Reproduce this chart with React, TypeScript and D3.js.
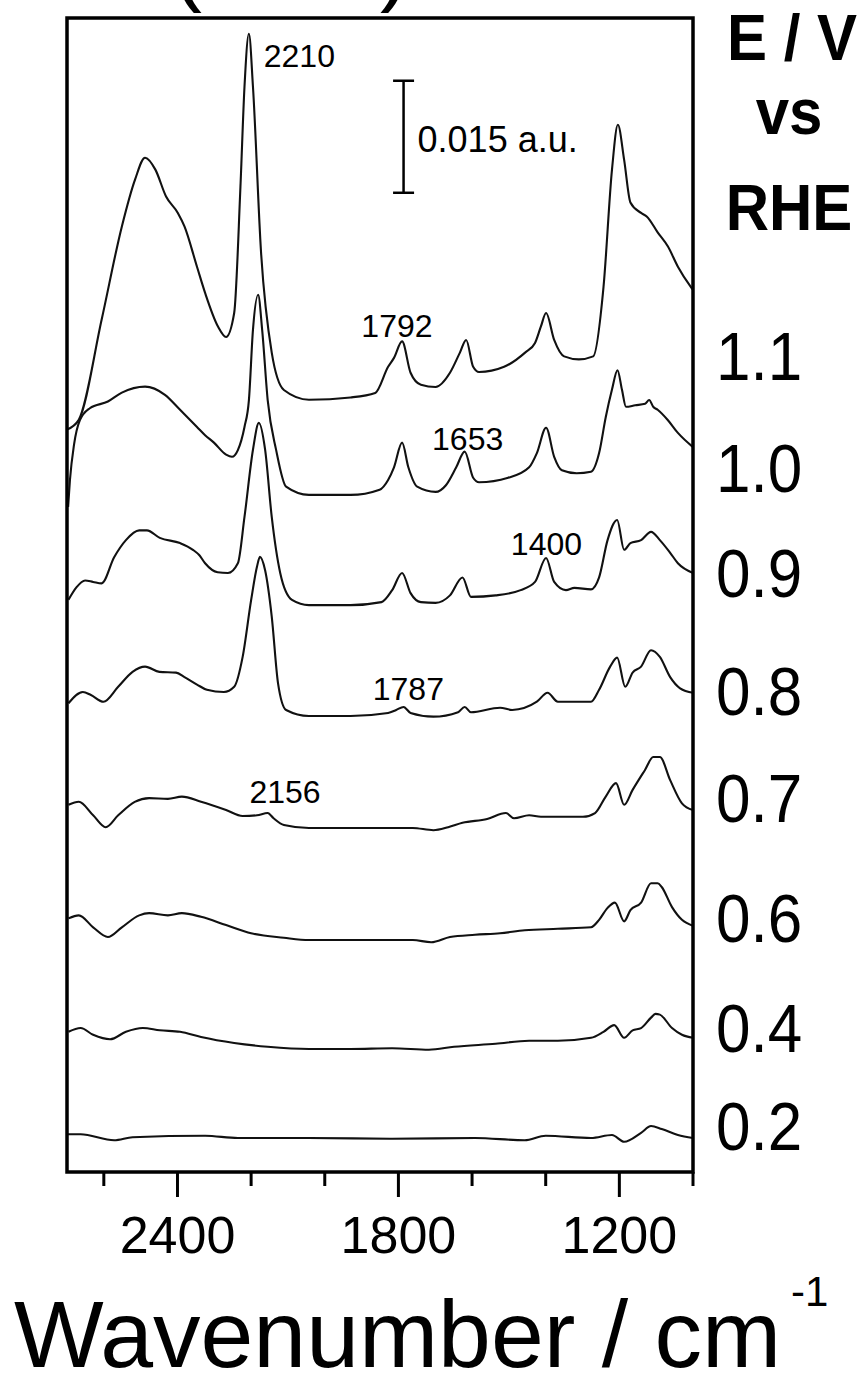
import React from 'react';
import * as d3 from 'd3';

const WIDTH = 861;
const HEIGHT = 1380;

// Electrode potentials (V vs RHE), top trace first
const potentials = ['1.1', '1.0', '0.9', '0.8', '0.7', '0.6', '0.4', '0.2'];

// Vertical offset of every spectrum in the stack (10^-3 a.u.)
const offsets = [103.4, 90.65, 75.9, 61.06, 46.06, 31.06, 16.47, 4.55];

// Spectra: [wavenumber / cm-1, absorbance relative to trace baseline / 10^-3 a.u.]
const spec11: [number, number][] = [
  [2700, -4.0], [2668, -2.7], [2606, 10.7], [2551, 23.2], [2515, 29.5], [2488, 32.4], [2460, 30.8],
  [2431, 27.2], [2399, 25.0], [2381, 23.2], [2347, 17.8], [2325, 14.3], [2290, 9.8], [2268, 8.4],
  [2246, 11.6], [2229, 28.5], [2218, 41.9], [2206, 49.0], [2195, 41.9], [2173, 19.7], [2144, 6.3],
  [2111, 1.3], [2043, 0], [1930, 0.3], [1863, 0.9], [1828, 4.4], [1812, 5.6], [1790, 7.8],
  [1767, 3.6], [1739, 2.0], [1699, 1.7], [1660, 3.6], [1633, 6.3], [1616, 8.0], [1597, 4.4],
  [1581, 3.7], [1513, 4.4], [1456, 6.3], [1429, 7.6], [1413, 9.8], [1399, 11.6], [1377, 8.0],
  [1350, 5.8], [1310, 5.4], [1271, 5.8], [1243, 15.1], [1220, 30.8], [1204, 36.8], [1187, 32.1],
  [1170, 26.4], [1141, 25.0], [1125, 24.5], [1096, 22.4], [1068, 20.5], [1041, 17.8], [1006, 15.1],
  [1000, 14.7],
];

const spec10: [number, number][] = [
  [2697, -1.6], [2692, 2.0], [2681, 6.7], [2665, 10.0], [2638, 11.6], [2589, 12.5], [2551, 13.7],
  [2488, 14.5], [2434, 13.4], [2393, 11.4], [2347, 9.1], [2325, 8.0], [2301, 7.0], [2268, 5.4],
  [2252, 5.1], [2236, 6.0], [2218, 9.1], [2206, 12.7], [2195, 22.1], [2181, 26.8], [2170, 22.1],
  [2155, 12.7], [2132, 6.0], [2105, 1.1], [2043, 0], [1930, 0], [1851, 0.7], [1828, 2.0],
  [1812, 3.7], [1790, 7.0], [1773, 3.7], [1749, 1.1], [1699, 0.4], [1671, 1.3], [1643, 3.7],
  [1620, 5.8], [1597, 2.3], [1581, 1.7], [1502, 2.3], [1445, 3.7], [1424, 5.6], [1399, 9.0],
  [1377, 5.1], [1356, 3.3], [1316, 2.9], [1277, 3.1], [1255, 5.6], [1237, 10.4], [1220, 14.1],
  [1205, 16.7], [1193, 14.1], [1182, 11.8], [1157, 12.0], [1130, 12.2], [1119, 12.7], [1108, 11.8],
  [1096, 11.4], [1068, 10.0], [1041, 8.3], [1000, 6.4],
];

const spec09: [number, number][] = [
  [2696, 0.7], [2674, 2.4], [2651, 3.3], [2629, 3.1], [2606, 2.9], [2572, 6.4], [2540, 8.7],
  [2504, 10.0], [2483, 10.0], [2448, 9.0], [2393, 8.3], [2358, 7.4], [2341, 6.7], [2325, 5.6],
  [2291, 4.4], [2263, 4.3], [2236, 5.6], [2218, 11.8], [2195, 20.8], [2179, 24.4], [2162, 20.8],
  [2144, 11.8], [2121, 4.3], [2089, 0.7], [2043, 0], [1930, 0], [1846, 0.4], [1817, 2.0],
  [1790, 4.3], [1767, 1.6], [1739, 0.4], [1699, 0.3], [1660, 1.3], [1626, 3.7], [1603, 1.1],
  [1536, 1.3], [1468, 2.0], [1429, 3.1], [1399, 6.3], [1377, 3.1], [1345, 2.0], [1322, 2.3],
  [1277, 2.1], [1255, 3.7], [1232, 8.7], [1206, 11.4], [1187, 7.4], [1170, 8.3], [1141, 8.7],
  [1114, 9.8], [1090, 8.7], [1062, 7.0], [1041, 5.6], [1000, 4.3],
];

const spec08: [number, number][] = [
  [2696, 1.7], [2657, 3.2], [2635, 2.8], [2601, 1.9], [2561, 3.9], [2522, 5.9], [2488, 6.6],
  [2449, 5.9], [2404, 5.8], [2381, 5.2], [2347, 4.2], [2320, 3.5], [2274, 3.2], [2246, 3.9],
  [2223, 7.9], [2200, 15.5], [2184, 20.0], [2176, 21.3], [2162, 19.5], [2144, 13.3], [2127, 4.4],
  [2105, 0.8], [2043, 0], [1930, 0], [1828, 0.4], [1806, 0.8], [1786, 1.2], [1767, 0.4],
  [1705, -0.1], [1638, 0.5], [1620, 1.2], [1603, 0.5], [1524, 1.1], [1491, 0.8], [1424, 1.9],
  [1395, 3.1], [1367, 1.9], [1322, 1.9], [1277, 1.9], [1255, 3.5], [1225, 6.6], [1206, 7.8],
  [1184, 3.9], [1164, 5.8], [1141, 6.6], [1114, 8.8], [1090, 7.9], [1062, 5.2], [1035, 3.7],
  [1000, 3.1],
];

const spec07: [number, number][] = [
  [2696, 3.1], [2668, 3.5], [2629, 1.7], [2595, 0.1], [2561, 1.7], [2516, 3.5], [2477, 4.0],
  [2426, 3.9], [2388, 4.2], [2336, 3.5], [2268, 2.4], [2223, 1.6], [2184, 1.7], [2155, 2.0],
  [2139, 1.3], [2111, 0.4], [2043, 0], [1930, 0], [1761, 0], [1705, -0.3], [1665, 0.1],
  [1626, 0.7], [1559, 1.2], [1508, 2.0], [1486, 1.3], [1445, 1.7], [1413, 1.5], [1366, 1.5],
  [1299, 1.5], [1266, 2.0], [1237, 4.2], [1209, 6.0], [1187, 3.1], [1164, 5.1], [1130, 7.8],
  [1108, 9.5], [1090, 9.5], [1062, 6.4], [1030, 3.3], [1000, 2.4],
];

const spec06: [number, number][] = [
  [2696, 2.9], [2668, 3.3], [2629, 1.7], [2589, 0.4], [2551, 1.7], [2504, 3.3], [2477, 3.6],
  [2426, 3.3], [2388, 3.6], [2336, 3.1], [2268, 2.0], [2200, 0.9], [2111, 0.3], [2043, 0],
  [1930, 0], [1761, 0], [1711, -0.3], [1660, 0.4], [1592, 0.7], [1524, 0.9], [1457, 1.3],
  [1367, 1.5], [1277, 1.7], [1255, 2.7], [1232, 4.3], [1212, 5.0], [1187, 2.5], [1170, 4.0],
  [1141, 5.0], [1114, 7.6], [1096, 7.6], [1085, 7.1], [1057, 4.4], [1030, 2.7], [1000, 1.9],
];

const spec04: [number, number][] = [
  [2696, 2.3], [2663, 2.8], [2629, 1.9], [2583, 1.3], [2540, 2.3], [2494, 2.8], [2448, 2.5],
  [2393, 2.3], [2336, 1.6], [2246, 0.8], [2155, 0.3], [2043, 0], [1930, 0], [1817, 0.1],
  [1717, -0.1], [1649, 0.3], [1536, 0.7], [1445, 1.1], [1367, 1.1], [1277, 1.5], [1243, 2.3],
  [1214, 3.2], [1187, 1.5], [1164, 2.5], [1141, 2.8], [1114, 4.2], [1102, 4.7], [1090, 4.6],
  [1057, 2.8], [1030, 1.9], [1000, 1.5],
];

const spec02: [number, number][] = [
  [2700, 0.5], [2663, 0.5], [2572, -0.3], [2522, 0.1], [2325, 0.3], [2236, 0], [2043, 0],
  [1817, -0.1], [1592, 0], [1457, -0.3], [1400, 0.3], [1277, 0], [1220, 0.4], [1187, -0.5],
  [1141, 0.7], [1114, 1.6], [1085, 1.2], [1041, 0.4], [1000, 0],
];

const spectra = [spec11, spec10, spec09, spec08, spec07, spec06, spec04, spec02];

// Axis ticks (cm-1)
const minorTicks = [2600, 2200, 2000, 1600, 1400, 1000];
const majorTicks = [2400, 1800, 1200];

// Band assignments written next to the peaks: [label, wavenumber of text centre, level / 10^-3 a.u.]
const bandLabels: [string, number, number][] = [
  ['2210', 2069, 148.0],
  ['1792', 1804, 111.8],
  ['1653', 1612, 96.7],
  ['1400', 1398, 82.6],
  ['1787', 1773, 63.2],
  ['2156', 2108, 49.4],
];

// Scale bar length (10^-3 a.u.)
const scaleBar = 15;

const FONT = '"Liberation Sans", Arial, Helvetica, sans-serif';

export default function App() {
  const left = 67;
  const right = 693;
  const top = 18;
  const bottom = 1172;

  const x = d3.scaleLinear().domain([2700, 1000]).range([left, right]);
  const y = d3.scaleLinear().domain([0, 154.5]).range([bottom, top]);

  const line = (offset: number) =>
    d3
      .line<[number, number]>()
      .x((d) => x(d[0]))
      .y((d) => y(d[1] + offset))
      .curve(d3.curveMonotoneX);

  // baseline level of each potential label (10^-3 a.u.)
  const potentialLevels = [106.05, 91.05, 76.99, 61.19, 46.87, 30.8, 16.07, 2.95];

  const barX = x(1786);
  const barBottom = y(131.1);
  const barTop = y(131.1 + scaleBar);

  return (
    <svg
      width={WIDTH}
      height={HEIGHT}
      viewBox={`0 0 ${WIDTH} ${HEIGHT}`}
      style={{ position: 'absolute', left: 0, top: 0, background: '#fff' }}
      fontFamily={FONT}
    >
      <rect x={0} y={0} width={WIDTH} height={HEIGHT} fill="#fff" />

      {/* remains of the panel heading above the frame */}
      <text x={172} y={-6} fontSize={90} fill="#000">(</text>
      <text x={380} y={-6} fontSize={90} fill="#000">)</text>

      {/* spectra */}
      <g fill="none" stroke="#111" strokeWidth={2.1} strokeLinejoin="round">
        {spectra.map((s, i) => (
          <path key={potentials[i]} d={line(offsets[i])(s) || ''} />
        ))}
      </g>

      {/* frame */}
      <rect
        x={left}
        y={top}
        width={right - left}
        height={bottom - top}
        fill="none"
        stroke="#000"
        strokeWidth={3.5}
      />

      {/* ticks */}
      <g stroke="#000" strokeWidth={3}>
        {minorTicks.map((t) => (
          <line key={t} x1={x(t)} x2={x(t)} y1={bottom} y2={bottom + 14} />
        ))}
        {majorTicks.map((t) => (
          <line key={t} x1={x(t)} x2={x(t)} y1={bottom} y2={bottom + 25} />
        ))}
      </g>
      {majorTicks.map((t) => (
        <text key={t} x={x(t)} y={1253} fontSize={52} textAnchor="middle" fill="#000">
          {t}
        </text>
      ))}

      {/* axis title */}
      <text x={14} y={1367} fontSize={95} fill="#000">
        Wavenumber / cm
      </text>
      <text x={791} y={1306} fontSize={42} fill="#000">
        -1
      </text>

      {/* band labels */}
      {bandLabels.map(([label, wn, lvl]) => (
        <text key={label} x={x(wn)} y={y(lvl)} fontSize={32} textAnchor="middle" fill="#000">
          {label}
        </text>
      ))}

      {/* scale bar */}
      <g stroke="#000" strokeWidth={2.5}>
        <line x1={barX} x2={barX} y1={barTop} y2={barBottom} />
        <line x1={barX - 10.5} x2={barX + 10.5} y1={barTop} y2={barTop} />
        <line x1={barX - 10.5} x2={barX + 10.5} y1={barBottom} y2={barBottom} />
      </g>
      <text x={barX + 14} y={(barTop + barBottom) / 2 + 15} fontSize={36} fill="#000">
        {(scaleBar / 1000).toFixed(3)} a.u.
      </text>

      {/* potential axis heading */}
      <g fontWeight="bold" fontSize={60} textAnchor="middle" fill="#000">
        <text transform="translate(792,60) scale(1,1.08)">E / V</text>
        <text transform="translate(789,134) scale(1,1.08)">vs</text>
        <text transform="translate(789,230) scale(1,1.08)">RHE</text>
      </g>
      {potentials.map((p, i) => (
        <text
          key={p}
          transform={`translate(716,${y(potentialLevels[i])}) scale(1,1.1)`}
          fontSize={62}
          fill="#000"
        >
          {p}
        </text>
      ))}
    </svg>
  );
}
